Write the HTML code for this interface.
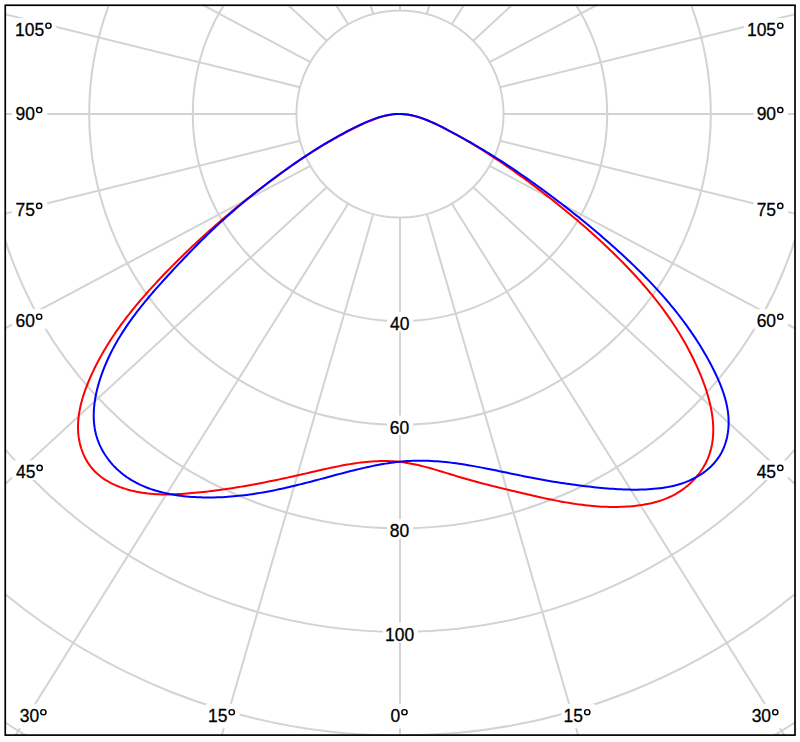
<!DOCTYPE html><html><head><meta charset="utf-8"><style>html,body{margin:0;padding:0;background:#fff;overflow:hidden}svg{display:block}text{font-family:"Liberation Sans",sans-serif;font-size:19px;fill:#000;stroke:#000;stroke-width:0.3px}</style></head><body>
<svg width="800" height="742" viewBox="0 0 800 742">
<defs><clipPath id="cp"><rect x="5.25" y="5.25" width="789.75" height="729.85"/></clipPath></defs>
<rect width="800" height="742" fill="#fff"/>
<g clip-path="url(#cp)" fill="none" stroke="#d3d3d3" stroke-width="2">
<circle cx="400.0" cy="114.0" r="103.60"/>
<circle cx="400.0" cy="114.0" r="207.20"/>
<circle cx="400.0" cy="114.0" r="310.80"/>
<circle cx="400.0" cy="114.0" r="414.40"/>
<circle cx="400.0" cy="114.0" r="518.00"/>
<circle cx="400.0" cy="114.0" r="621.60"/>
<circle cx="400.0" cy="114.0" r="725.20"/>
<line x1="400.00" y1="217.60" x2="400.00" y2="2217.60"/>
<line x1="373.19" y1="214.07" x2="-187.93" y2="2145.92"/>
<line x1="426.81" y1="214.07" x2="987.93" y2="2145.92"/>
<line x1="348.20" y1="203.72" x2="-735.80" y2="1935.77"/>
<line x1="451.80" y1="203.72" x2="1535.80" y2="1935.77"/>
<line x1="326.74" y1="187.26" x2="-1206.26" y2="1601.47"/>
<line x1="473.26" y1="187.26" x2="2006.26" y2="1601.47"/>
<line x1="310.28" y1="165.80" x2="-1567.26" y2="1165.80"/>
<line x1="489.72" y1="165.80" x2="2367.26" y2="1165.80"/>
<line x1="299.93" y1="140.81" x2="-1794.20" y2="658.45"/>
<line x1="500.07" y1="140.81" x2="2594.20" y2="658.45"/>
<line x1="296.40" y1="114.00" x2="-1871.60" y2="114.00"/>
<line x1="503.60" y1="114.00" x2="2671.60" y2="114.00"/>
<line x1="299.93" y1="87.19" x2="-1794.20" y2="-430.45"/>
<line x1="500.07" y1="87.19" x2="2594.20" y2="-430.45"/>
<line x1="310.28" y1="62.20" x2="-1567.26" y2="-937.80"/>
<line x1="489.72" y1="62.20" x2="2367.26" y2="-937.80"/>
<line x1="326.74" y1="40.74" x2="-1206.26" y2="-1373.47"/>
<line x1="473.26" y1="40.74" x2="2006.26" y2="-1373.47"/>
<line x1="348.20" y1="24.28" x2="-735.80" y2="-1707.77"/>
<line x1="451.80" y1="24.28" x2="1535.80" y2="-1707.77"/>
<line x1="373.19" y1="13.93" x2="-187.93" y2="-1917.92"/>
<line x1="426.81" y1="13.93" x2="987.93" y2="-1917.92"/>
<line x1="400.00" y1="10.40" x2="400.00" y2="-1989.60"/>
</g>
<g fill="#fff">
<rect x="386.92" y="311.90" width="26.36" height="19.80"/>
<rect x="387.17" y="415.50" width="25.87" height="19.80"/>
<rect x="387.10" y="519.10" width="26.01" height="19.80"/>
<rect x="382.92" y="622.60" width="35.15" height="19.80"/>
<rect x="387.72" y="703.80" width="24.56" height="24.50"/>
<rect x="561.43" y="703.80" width="33.64" height="24.50"/>
<rect x="205.93" y="703.80" width="33.64" height="24.50"/>
<rect x="12.00" y="18.20" width="44.36" height="19.50"/>
<rect x="744.24" y="18.20" width="43.76" height="19.50"/>
<rect x="12.00" y="102.50" width="35.15" height="19.50"/>
<rect x="753.45" y="102.50" width="34.55" height="19.50"/>
<rect x="12.00" y="198.40" width="35.08" height="19.50"/>
<rect x="753.52" y="198.40" width="34.48" height="19.50"/>
<rect x="12.00" y="309.20" width="35.08" height="19.50"/>
<rect x="753.52" y="309.20" width="34.48" height="19.50"/>
<rect x="12.00" y="460.40" width="35.57" height="19.50"/>
<rect x="753.03" y="460.40" width="34.97" height="19.50"/>
<rect x="16.40" y="703.80" width="34.90" height="24.50"/>
<rect x="748.30" y="703.80" width="34.90" height="24.50"/>
</g>
<g>
<text transform="translate(390.02 329.90) scale(0.920 1)">40</text>
<text transform="translate(389.77 433.50) scale(0.920 1)">60</text>
<text transform="translate(389.84 537.10) scale(0.920 1)">80</text>
<text transform="translate(385.10 640.60) scale(0.920 1)">100</text>
<text transform="translate(390.54 722.20) scale(0.920 1)">0</text>
<circle cx="404.46" cy="712.20" r="2.60" fill="none" stroke="#000" stroke-width="1.45"/>
<text transform="translate(563.60 722.20) scale(0.920 1)">15</text>
<circle cx="587.24" cy="712.20" r="2.60" fill="none" stroke="#000" stroke-width="1.45"/>
<text transform="translate(208.10 722.20) scale(0.920 1)">15</text>
<circle cx="231.74" cy="712.20" r="2.60" fill="none" stroke="#000" stroke-width="1.45"/>
<text transform="translate(15.07 35.70) scale(0.920 1)">105</text>
<circle cx="48.44" cy="25.70" r="2.60" fill="none" stroke="#000" stroke-width="1.45"/>
<text transform="translate(746.91 35.70) scale(0.920 1)">105</text>
<circle cx="780.27" cy="25.70" r="2.60" fill="none" stroke="#000" stroke-width="1.45"/>
<text transform="translate(15.58 120.00) scale(0.920 1)">90</text>
<circle cx="39.22" cy="110.00" r="2.60" fill="none" stroke="#000" stroke-width="1.45"/>
<text transform="translate(756.63 120.00) scale(0.920 1)">90</text>
<circle cx="780.28" cy="110.00" r="2.60" fill="none" stroke="#000" stroke-width="1.45"/>
<text transform="translate(15.51 215.90) scale(0.920 1)">75</text>
<circle cx="39.15" cy="205.90" r="2.60" fill="none" stroke="#000" stroke-width="1.45"/>
<text transform="translate(756.63 215.90) scale(0.920 1)">75</text>
<circle cx="780.28" cy="205.90" r="2.60" fill="none" stroke="#000" stroke-width="1.45"/>
<text transform="translate(15.51 326.70) scale(0.920 1)">60</text>
<circle cx="39.15" cy="316.70" r="2.60" fill="none" stroke="#000" stroke-width="1.45"/>
<text transform="translate(756.63 326.70) scale(0.920 1)">60</text>
<circle cx="780.28" cy="316.70" r="2.60" fill="none" stroke="#000" stroke-width="1.45"/>
<text transform="translate(16.00 477.90) scale(0.920 1)">45</text>
<circle cx="39.64" cy="467.90" r="2.60" fill="none" stroke="#000" stroke-width="1.45"/>
<text transform="translate(756.63 477.90) scale(0.920 1)">45</text>
<circle cx="780.28" cy="467.90" r="2.60" fill="none" stroke="#000" stroke-width="1.45"/>
<text transform="translate(19.74 722.20) scale(0.920 1)">30</text>
<circle cx="43.38" cy="712.20" r="2.60" fill="none" stroke="#000" stroke-width="1.45"/>
<text transform="translate(751.63 722.20) scale(0.920 1)">30</text>
<circle cx="775.28" cy="712.20" r="2.60" fill="none" stroke="#000" stroke-width="1.45"/>
</g>
<g fill="none" stroke-width="2" stroke-linejoin="round">
<path stroke="#ff0000" d="M400.03,114.07 L397.38,114.12 L394.73,114.29 L392.07,114.59 L389.41,115.00 L386.76,115.52 L384.11,116.14 L381.46,116.85 L378.82,117.65 L376.18,118.53 L373.55,119.48 L370.92,120.50 L368.31,121.57 L365.70,122.69 L363.11,123.86 L360.53,125.06 L357.97,126.29 L355.41,127.54 L352.88,128.80 L350.36,130.08 L347.85,131.38 L345.36,132.68 L342.89,134.00 L340.43,135.33 L337.98,136.68 L335.55,138.03 L333.12,139.40 L330.72,140.78 L328.32,142.18 L325.94,143.58 L323.56,145.00 L321.20,146.42 L318.85,147.86 L316.51,149.31 L314.18,150.77 L311.86,152.25 L309.55,153.73 L307.25,155.22 L304.95,156.72 L302.67,158.24 L300.39,159.76 L298.12,161.29 L295.86,162.83 L293.60,164.38 L291.35,165.95 L289.10,167.52 L286.87,169.09 L284.63,170.68 L282.40,172.28 L280.18,173.88 L277.96,175.49 L275.74,177.12 L273.53,178.74 L271.32,180.38 L269.11,182.03 L266.91,183.68 L264.71,185.34 L262.51,187.00 L260.32,188.68 L258.13,190.36 L255.94,192.05 L253.76,193.75 L251.59,195.46 L249.41,197.17 L247.24,198.89 L245.08,200.62 L242.92,202.35 L240.77,204.09 L238.62,205.84 L236.47,207.60 L234.33,209.36 L232.19,211.13 L230.06,212.91 L227.94,214.69 L225.82,216.49 L223.70,218.29 L221.59,220.09 L219.49,221.90 L217.39,223.72 L215.30,225.55 L213.21,227.38 L211.13,229.22 L209.06,231.07 L206.99,232.92 L204.92,234.78 L202.87,236.65 L200.82,238.52 L198.77,240.40 L196.74,242.29 L194.71,244.18 L192.68,246.08 L190.67,247.98 L188.66,249.89 L186.66,251.81 L184.66,253.74 L182.67,255.67 L180.69,257.60 L178.72,259.54 L176.75,261.49 L174.79,263.45 L172.84,265.41 L170.90,267.37 L168.96,269.35 L167.04,271.32 L165.12,273.31 L163.21,275.30 L161.31,277.29 L159.41,279.29 L157.53,281.30 L155.65,283.31 L153.78,285.33 L151.93,287.36 L150.08,289.39 L148.24,291.44 L146.41,293.49 L144.60,295.54 L142.80,297.61 L141.00,299.68 L139.22,301.77 L137.46,303.86 L135.70,305.97 L133.96,308.09 L132.24,310.21 L130.52,312.35 L128.83,314.50 L127.14,316.66 L125.48,318.84 L123.82,321.02 L122.19,323.22 L120.57,325.44 L118.97,327.67 L117.38,329.91 L115.81,332.17 L114.26,334.44 L112.73,336.73 L111.22,339.03 L109.73,341.35 L108.25,343.69 L106.80,346.05 L105.37,348.42 L103.95,350.81 L102.56,353.21 L101.19,355.64 L99.84,358.09 L98.52,360.55 L97.21,363.03 L95.93,365.54 L94.67,368.06 L93.44,370.61 L92.23,373.18 L91.05,375.76 L89.89,378.37 L88.77,381.00 L87.69,383.64 L86.64,386.29 L85.64,388.96 L84.68,391.65 L83.77,394.34 L82.92,397.05 L82.12,399.76 L81.39,402.48 L80.71,405.21 L80.11,407.94 L79.57,410.67 L79.11,413.41 L78.72,416.14 L78.42,418.88 L78.19,421.61 L78.06,424.34 L78.01,427.07 L78.06,429.79 L78.21,432.50 L78.45,435.20 L78.80,437.90 L79.26,440.58 L79.83,443.24 L80.50,445.89 L81.28,448.50 L82.17,451.07 L83.17,453.61 L84.27,456.09 L85.47,458.51 L86.79,460.87 L88.20,463.16 L89.72,465.37 L91.34,467.49 L93.06,469.53 L94.89,471.46 L96.81,473.31 L98.81,475.07 L100.91,476.73 L103.08,478.31 L105.33,479.81 L107.65,481.22 L110.04,482.54 L112.49,483.79 L114.99,484.96 L117.55,486.05 L120.15,487.07 L122.80,488.01 L125.48,488.88 L128.20,489.68 L130.94,490.41 L133.71,491.07 L136.50,491.67 L139.30,492.20 L142.11,492.67 L144.93,493.08 L147.74,493.43 L150.55,493.73 L153.36,493.97 L156.16,494.15 L158.96,494.29 L161.75,494.39 L164.54,494.43 L167.33,494.44 L170.11,494.41 L172.89,494.35 L175.67,494.25 L178.44,494.12 L181.20,493.96 L183.97,493.78 L186.73,493.57 L189.49,493.35 L192.24,493.11 L194.99,492.85 L197.74,492.58 L200.49,492.30 L203.23,492.01 L205.97,491.70 L208.71,491.38 L211.44,491.05 L214.17,490.70 L216.91,490.34 L219.63,489.98 L222.36,489.60 L225.08,489.20 L227.81,488.80 L230.53,488.39 L233.25,487.96 L235.96,487.53 L238.68,487.09 L241.39,486.63 L244.11,486.17 L246.82,485.69 L249.53,485.21 L252.24,484.72 L254.95,484.22 L257.66,483.71 L260.37,483.19 L263.08,482.67 L265.79,482.14 L268.49,481.59 L271.20,481.05 L273.91,480.49 L276.62,479.93 L279.32,479.36 L282.03,478.78 L284.74,478.20 L287.45,477.61 L290.16,477.02 L292.87,476.42 L295.58,475.82 L298.29,475.21 L301.00,474.59 L303.72,473.97 L306.43,473.35 L309.15,472.72 L311.87,472.09 L314.58,471.46 L317.30,470.83 L320.02,470.21 L322.74,469.59 L325.47,468.98 L328.19,468.38 L330.91,467.79 L333.64,467.22 L336.36,466.65 L339.09,466.11 L341.81,465.58 L344.54,465.07 L347.26,464.58 L349.99,464.12 L352.72,463.68 L355.44,463.27 L358.17,462.88 L360.89,462.53 L363.62,462.21 L366.35,461.92 L369.07,461.67 L371.80,461.46 L374.52,461.29 L377.25,461.16 L379.97,461.07 L382.69,461.02 L385.42,461.03 L388.14,461.08 L390.86,461.18 L393.58,461.33 L396.30,461.54 L399.02,461.80 L401.73,462.12 L404.45,462.49 L407.16,462.92 L409.88,463.39 L412.59,463.92 L415.30,464.48 L418.01,465.08 L420.71,465.72 L423.42,466.40 L426.13,467.10 L428.83,467.83 L431.53,468.58 L434.23,469.35 L436.93,470.14 L439.62,470.95 L442.32,471.76 L445.01,472.59 L447.70,473.41 L450.38,474.24 L453.07,475.07 L455.75,475.89 L458.43,476.70 L461.11,477.50 L463.79,478.29 L466.46,479.06 L469.14,479.82 L471.81,480.57 L474.48,481.30 L477.14,482.02 L479.81,482.73 L482.48,483.43 L485.14,484.12 L487.81,484.80 L490.47,485.48 L493.14,486.15 L495.81,486.81 L498.47,487.46 L501.14,488.11 L503.81,488.75 L506.48,489.40 L509.15,490.03 L511.83,490.67 L514.50,491.30 L517.18,491.94 L519.86,492.57 L522.54,493.20 L525.23,493.83 L527.92,494.46 L530.61,495.09 L533.31,495.71 L536.00,496.32 L538.70,496.93 L541.40,497.52 L544.11,498.11 L546.82,498.69 L549.52,499.26 L552.24,499.82 L554.95,500.36 L557.67,500.89 L560.39,501.40 L563.11,501.90 L565.84,502.38 L568.56,502.85 L571.29,503.29 L574.02,503.72 L576.76,504.12 L579.50,504.50 L582.24,504.86 L584.98,505.19 L587.72,505.50 L590.47,505.78 L593.22,506.03 L595.97,506.26 L598.72,506.46 L601.48,506.63 L604.24,506.76 L607.00,506.86 L609.76,506.93 L612.53,506.97 L615.29,506.97 L618.06,506.93 L620.84,506.86 L623.61,506.75 L626.39,506.60 L629.17,506.41 L631.95,506.17 L634.73,505.90 L637.51,505.57 L640.28,505.20 L643.05,504.78 L645.81,504.29 L648.55,503.76 L651.28,503.16 L653.98,502.49 L656.67,501.76 L659.34,500.96 L661.97,500.09 L664.58,499.14 L667.16,498.11 L669.70,497.01 L672.20,495.81 L674.67,494.53 L677.09,493.17 L679.46,491.70 L681.79,490.15 L684.07,488.50 L686.29,486.76 L688.45,484.94 L690.54,483.04 L692.56,481.07 L694.51,479.02 L696.37,476.92 L698.16,474.75 L699.85,472.54 L701.45,470.27 L702.95,467.96 L704.35,465.61 L705.64,463.23 L706.82,460.81 L707.89,458.37 L708.86,455.90 L709.72,453.41 L710.49,450.89 L711.15,448.34 L711.72,445.78 L712.20,443.19 L712.58,440.59 L712.88,437.97 L713.09,435.33 L713.22,432.67 L713.27,430.01 L713.23,427.33 L713.13,424.63 L712.94,421.93 L712.69,419.22 L712.37,416.51 L711.98,413.78 L711.53,411.06 L711.01,408.33 L710.44,405.60 L709.81,402.87 L709.13,400.14 L708.39,397.41 L707.61,394.69 L706.77,391.97 L705.90,389.26 L704.98,386.55 L704.02,383.86 L703.03,381.17 L702.00,378.50 L700.93,375.84 L699.84,373.20 L698.72,370.57 L697.58,367.96 L696.41,365.37 L695.22,362.80 L694.01,360.24 L692.78,357.70 L691.52,355.19 L690.25,352.68 L688.95,350.20 L687.63,347.73 L686.29,345.28 L684.94,342.85 L683.56,340.43 L682.16,338.03 L680.74,335.65 L679.31,333.28 L677.85,330.93 L676.38,328.59 L674.88,326.27 L673.37,323.96 L671.84,321.67 L670.30,319.39 L668.73,317.12 L667.15,314.87 L665.56,312.64 L663.94,310.42 L662.31,308.21 L660.66,306.01 L659.00,303.83 L657.32,301.66 L655.63,299.50 L653.92,297.35 L652.20,295.22 L650.46,293.10 L648.71,290.99 L646.94,288.89 L645.16,286.80 L643.37,284.73 L641.56,282.66 L639.74,280.60 L637.91,278.56 L636.06,276.52 L634.20,274.50 L632.33,272.48 L630.45,270.48 L628.56,268.48 L626.66,266.49 L624.74,264.51 L622.82,262.54 L620.88,260.58 L618.93,258.62 L616.98,256.67 L615.01,254.73 L613.04,252.80 L611.05,250.88 L609.06,248.96 L607.05,247.05 L605.04,245.15 L603.02,243.26 L600.99,241.37 L598.95,239.49 L596.91,237.62 L594.85,235.75 L592.79,233.90 L590.73,232.05 L588.65,230.21 L586.57,228.37 L584.48,226.55 L582.38,224.73 L580.28,222.91 L578.17,221.11 L576.05,219.31 L573.93,217.52 L571.80,215.74 L569.67,213.96 L567.53,212.19 L565.38,210.43 L563.23,208.68 L561.08,206.93 L558.92,205.19 L556.75,203.46 L554.59,201.73 L552.41,200.01 L550.24,198.30 L548.06,196.59 L545.87,194.90 L543.69,193.21 L541.49,191.52 L539.30,189.84 L537.10,188.17 L534.90,186.51 L532.70,184.85 L530.50,183.20 L528.29,181.56 L526.07,179.93 L523.85,178.30 L521.63,176.68 L519.41,175.07 L517.17,173.47 L514.94,171.87 L512.70,170.28 L510.45,168.70 L508.19,167.13 L505.93,165.57 L503.67,164.01 L501.40,162.47 L499.12,160.93 L496.83,159.40 L494.53,157.88 L492.23,156.37 L489.92,154.87 L487.60,153.38 L485.28,151.89 L482.94,150.42 L480.60,148.96 L478.25,147.50 L475.88,146.06 L473.51,144.63 L471.13,143.20 L468.73,141.79 L466.33,140.39 L463.92,139.00 L461.49,137.61 L459.06,136.24 L456.61,134.88 L454.15,133.53 L451.68,132.19 L449.19,130.87 L446.70,129.55 L444.19,128.25 L441.66,126.96 L439.13,125.69 L436.58,124.44 L434.03,123.24 L431.46,122.08 L428.88,120.96 L426.30,119.91 L423.70,118.91 L421.10,117.99 L418.48,117.15 L415.87,116.40 L413.24,115.73 L410.61,115.17 L407.97,114.72 L405.33,114.38 L402.68,114.16 L400.03,114.07Z"/>
<path stroke="#0000ff" d="M400.05,113.91 L397.42,113.94 L394.80,114.09 L392.17,114.37 L389.54,114.76 L386.91,115.26 L384.28,115.85 L381.65,116.54 L379.03,117.31 L376.42,118.16 L373.81,119.08 L371.20,120.07 L368.61,121.11 L366.03,122.20 L363.46,123.34 L360.90,124.52 L358.35,125.72 L355.82,126.95 L353.30,128.19 L350.80,129.45 L348.32,130.72 L345.85,132.01 L343.40,133.31 L340.96,134.62 L338.54,135.95 L336.12,137.29 L333.73,138.64 L331.34,140.01 L328.97,141.38 L326.61,142.77 L324.26,144.18 L321.93,145.59 L319.60,147.01 L317.29,148.45 L314.98,149.90 L312.69,151.36 L310.40,152.83 L308.13,154.31 L305.86,155.81 L303.61,157.31 L301.36,158.82 L299.11,160.34 L296.88,161.88 L294.65,163.42 L292.43,164.97 L290.22,166.54 L288.01,168.11 L285.80,169.69 L283.61,171.28 L281.41,172.87 L279.22,174.48 L277.04,176.09 L274.86,177.72 L272.68,179.35 L270.51,180.99 L268.33,182.63 L266.17,184.29 L264.01,185.95 L261.85,187.62 L259.69,189.30 L257.55,190.99 L255.40,192.68 L253.26,194.39 L251.13,196.10 L249.00,197.82 L246.88,199.55 L244.77,201.29 L242.66,203.04 L240.56,204.80 L238.46,206.56 L236.38,208.34 L234.30,210.12 L232.22,211.91 L230.16,213.71 L228.10,215.52 L226.05,217.34 L224.01,219.17 L221.98,221.01 L219.95,222.86 L217.94,224.71 L215.93,226.58 L213.94,228.46 L211.95,230.34 L209.97,232.23 L207.99,234.13 L206.03,236.04 L204.07,237.95 L202.12,239.88 L200.17,241.80 L198.24,243.74 L196.31,245.68 L194.38,247.63 L192.47,249.59 L190.55,251.55 L188.65,253.52 L186.75,255.49 L184.86,257.47 L182.97,259.45 L181.08,261.44 L179.20,263.44 L177.33,265.43 L175.46,267.43 L173.59,269.44 L171.73,271.45 L169.88,273.46 L168.02,275.47 L166.17,277.49 L164.33,279.52 L162.49,281.54 L160.66,283.58 L158.84,285.62 L157.03,287.66 L155.23,289.71 L153.43,291.77 L151.65,293.84 L149.88,295.91 L148.12,298.00 L146.37,300.09 L144.63,302.19 L142.92,304.30 L141.21,306.43 L139.52,308.56 L137.85,310.71 L136.20,312.86 L134.56,315.03 L132.94,317.21 L131.34,319.41 L129.76,321.62 L128.20,323.84 L126.67,326.08 L125.15,328.33 L123.66,330.60 L122.19,332.89 L120.75,335.19 L119.33,337.51 L117.94,339.84 L116.57,342.20 L115.23,344.57 L113.92,346.96 L112.64,349.37 L111.39,351.80 L110.17,354.25 L108.98,356.73 L107.82,359.22 L106.69,361.74 L105.60,364.27 L104.54,366.83 L103.51,369.42 L102.52,372.02 L101.57,374.65 L100.65,377.31 L99.78,379.98 L98.96,382.67 L98.18,385.37 L97.46,388.08 L96.78,390.81 L96.17,393.55 L95.62,396.29 L95.13,399.04 L94.71,401.79 L94.36,404.54 L94.08,407.28 L93.88,410.03 L93.75,412.77 L93.71,415.50 L93.75,418.22 L93.88,420.92 L94.10,423.62 L94.42,426.29 L94.83,428.95 L95.34,431.59 L95.95,434.21 L96.67,436.80 L97.50,439.36 L98.43,441.89 L99.47,444.40 L100.60,446.86 L101.83,449.28 L103.16,451.66 L104.57,454.00 L106.06,456.28 L107.63,458.51 L109.28,460.69 L111.00,462.80 L112.80,464.85 L114.65,466.83 L116.57,468.75 L118.54,470.59 L120.57,472.35 L122.66,474.04 L124.79,475.67 L126.97,477.22 L129.20,478.70 L131.48,480.11 L133.79,481.46 L136.15,482.74 L138.55,483.95 L140.99,485.11 L143.47,486.20 L145.97,487.24 L148.51,488.21 L151.08,489.13 L153.68,489.99 L156.31,490.80 L158.96,491.55 L161.63,492.25 L164.33,492.90 L167.04,493.50 L169.77,494.06 L172.52,494.56 L175.28,495.02 L178.05,495.44 L180.83,495.81 L183.62,496.14 L186.41,496.44 L189.21,496.69 L192.02,496.90 L194.82,497.08 L197.62,497.23 L200.42,497.34 L203.21,497.41 L205.99,497.46 L208.77,497.48 L211.54,497.46 L214.30,497.42 L217.05,497.35 L219.80,497.25 L222.54,497.13 L225.27,496.98 L228.00,496.80 L230.72,496.60 L233.43,496.37 L236.14,496.12 L238.84,495.85 L241.54,495.55 L244.23,495.23 L246.91,494.89 L249.60,494.53 L252.27,494.15 L254.95,493.74 L257.62,493.32 L260.29,492.88 L262.95,492.42 L265.61,491.94 L268.27,491.45 L270.92,490.94 L273.58,490.41 L276.23,489.87 L278.88,489.31 L281.53,488.74 L284.17,488.16 L286.82,487.56 L289.47,486.95 L292.11,486.33 L294.76,485.70 L297.40,485.06 L300.05,484.40 L302.70,483.74 L305.35,483.07 L307.99,482.39 L310.64,481.70 L313.30,481.01 L315.95,480.31 L318.61,479.60 L321.27,478.89 L323.93,478.17 L326.59,477.46 L329.26,476.74 L331.93,476.02 L334.60,475.30 L337.27,474.59 L339.94,473.87 L342.62,473.17 L345.30,472.47 L347.97,471.78 L350.66,471.09 L353.34,470.42 L356.02,469.76 L358.71,469.11 L361.40,468.48 L364.09,467.86 L366.78,467.26 L369.47,466.68 L372.16,466.11 L374.86,465.57 L377.56,465.05 L380.25,464.55 L382.95,464.07 L385.65,463.62 L388.35,463.20 L391.05,462.81 L393.76,462.44 L396.46,462.11 L399.17,461.81 L401.87,461.54 L404.58,461.30 L407.28,461.11 L409.99,460.94 L412.70,460.82 L415.41,460.74 L418.11,460.69 L420.82,460.68 L423.53,460.70 L426.24,460.76 L428.95,460.85 L431.66,460.97 L434.37,461.13 L437.09,461.31 L439.80,461.52 L442.51,461.76 L445.22,462.03 L447.93,462.32 L450.64,462.63 L453.35,462.97 L456.07,463.33 L458.78,463.71 L461.49,464.11 L464.20,464.52 L466.91,464.96 L469.62,465.41 L472.33,465.88 L475.04,466.36 L477.75,466.86 L480.46,467.36 L483.17,467.88 L485.88,468.41 L488.58,468.94 L491.29,469.49 L494.00,470.04 L496.70,470.59 L499.41,471.15 L502.11,471.71 L504.82,472.28 L507.52,472.84 L510.22,473.41 L512.92,473.97 L515.63,474.53 L518.32,475.09 L521.02,475.64 L523.72,476.19 L526.42,476.73 L529.11,477.27 L531.81,477.79 L534.50,478.30 L537.19,478.81 L539.88,479.30 L542.57,479.79 L545.26,480.27 L547.95,480.73 L550.64,481.19 L553.33,481.64 L556.02,482.07 L558.71,482.50 L561.40,482.92 L564.09,483.33 L566.78,483.73 L569.47,484.11 L572.17,484.49 L574.86,484.86 L577.55,485.22 L580.25,485.56 L582.94,485.90 L585.64,486.23 L588.34,486.55 L591.04,486.85 L593.75,487.15 L596.45,487.43 L599.16,487.71 L601.87,487.97 L604.58,488.21 L607.30,488.44 L610.01,488.66 L612.73,488.85 L615.46,489.03 L618.19,489.19 L620.92,489.32 L623.65,489.44 L626.39,489.53 L629.13,489.60 L631.87,489.64 L634.62,489.65 L637.38,489.63 L640.14,489.59 L642.90,489.52 L645.67,489.41 L648.44,489.27 L651.21,489.09 L653.98,488.87 L656.74,488.61 L659.50,488.29 L662.25,487.93 L664.99,487.51 L667.72,487.04 L670.43,486.51 L673.12,485.91 L675.80,485.25 L678.45,484.51 L681.08,483.71 L683.69,482.83 L686.27,481.87 L688.82,480.82 L691.33,479.70 L693.80,478.49 L696.23,477.20 L698.61,475.83 L700.93,474.38 L703.19,472.84 L705.39,471.23 L707.51,469.53 L709.55,467.76 L711.51,465.91 L713.38,463.97 L715.15,461.96 L716.82,459.87 L718.39,457.70 L719.85,455.46 L721.19,453.14 L722.41,450.75 L723.53,448.30 L724.53,445.79 L725.41,443.23 L726.19,440.63 L726.86,438.00 L727.42,435.34 L727.87,432.65 L728.22,429.95 L728.46,427.25 L728.60,424.54 L728.63,421.83 L728.56,419.13 L728.40,416.43 L728.15,413.75 L727.81,411.06 L727.38,408.39 L726.88,405.72 L726.30,403.06 L725.64,400.41 L724.92,397.77 L724.13,395.14 L723.28,392.52 L722.37,389.91 L721.40,387.31 L720.39,384.72 L719.33,382.15 L718.23,379.59 L717.08,377.04 L715.90,374.51 L714.69,371.99 L713.45,369.49 L712.19,367.00 L710.91,364.53 L709.60,362.08 L708.28,359.64 L706.93,357.22 L705.57,354.81 L704.18,352.42 L702.78,350.05 L701.36,347.69 L699.92,345.34 L698.46,343.01 L696.98,340.70 L695.49,338.40 L693.97,336.11 L692.44,333.84 L690.90,331.58 L689.33,329.34 L687.75,327.11 L686.16,324.89 L684.54,322.69 L682.92,320.50 L681.27,318.32 L679.61,316.15 L677.94,314.00 L676.25,311.86 L674.54,309.73 L672.82,307.62 L671.09,305.51 L669.34,303.42 L667.58,301.34 L665.81,299.27 L664.02,297.21 L662.22,295.16 L660.41,293.12 L658.58,291.10 L656.75,289.08 L654.90,287.07 L653.04,285.08 L651.17,283.09 L649.28,281.11 L647.39,279.15 L645.48,277.19 L643.57,275.24 L641.64,273.30 L639.71,271.37 L637.76,269.45 L635.81,267.53 L633.85,265.63 L631.87,263.73 L629.89,261.84 L627.90,259.96 L625.91,258.08 L623.90,256.21 L621.89,254.35 L619.87,252.50 L617.84,250.65 L615.81,248.81 L613.76,246.98 L611.72,245.15 L609.66,243.33 L607.60,241.52 L605.53,239.72 L603.46,237.92 L601.38,236.12 L599.29,234.34 L597.20,232.56 L595.10,230.78 L593.00,229.02 L590.89,227.26 L588.78,225.50 L586.66,223.76 L584.54,222.02 L582.41,220.29 L580.28,218.56 L578.14,216.84 L576.00,215.13 L573.85,213.42 L571.70,211.72 L569.55,210.03 L567.39,208.34 L565.23,206.66 L563.06,204.99 L560.89,203.33 L558.72,201.67 L556.54,200.01 L554.37,198.37 L552.18,196.73 L550.00,195.10 L547.81,193.47 L545.62,191.85 L543.43,190.24 L541.23,188.64 L539.03,187.04 L536.83,185.45 L534.62,183.86 L532.41,182.28 L530.19,180.71 L527.97,179.15 L525.75,177.59 L523.52,176.04 L521.28,174.50 L519.05,172.97 L516.80,171.44 L514.55,169.92 L512.30,168.41 L510.04,166.90 L507.77,165.40 L505.50,163.91 L503.22,162.43 L500.93,160.96 L498.64,159.49 L496.34,158.03 L494.04,156.58 L491.72,155.13 L489.40,153.70 L487.08,152.27 L484.74,150.85 L482.40,149.43 L480.05,148.03 L477.69,146.63 L475.32,145.24 L472.95,143.86 L470.56,142.49 L468.17,141.13 L465.77,139.77 L463.36,138.42 L460.93,137.09 L458.50,135.76 L456.06,134.43 L453.61,133.12 L451.15,131.81 L448.68,130.52 L446.20,129.23 L443.71,127.95 L441.21,126.68 L438.70,125.44 L436.18,124.21 L433.64,123.03 L431.10,121.88 L428.55,120.78 L426.00,119.74 L423.43,118.76 L420.86,117.85 L418.28,117.01 L415.69,116.26 L413.10,115.60 L410.50,115.04 L407.89,114.58 L405.28,114.23 L402.67,114.01 L400.05,113.91Z"/>
</g>
<rect x="5.25" y="5.25" width="789.75" height="729.85" fill="none" stroke="#000" stroke-width="1.7"/>
</svg></body></html>
